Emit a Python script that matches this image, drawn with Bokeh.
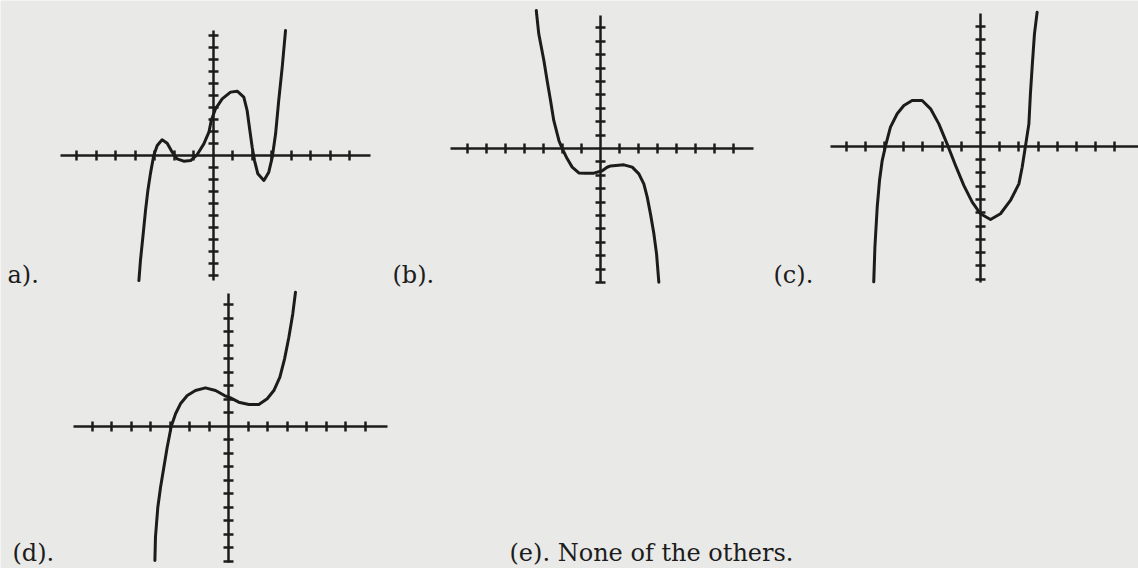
from bokeh.plotting import figure
from bokeh.models import Range1d, LinearAxis, FixedTicker, Label
from bokeh.embed import file_html
from bokeh.resources import INLINE

# ---- curve samples, each in its own graph's units ----
a_x = [-3.80, -3.72, -3.58, -3.46, -3.34, -3.21, -3.04, -2.86, -2.61, -2.35, -2.09, -1.84,
       -1.50, -1.15, -0.81, -0.47, -0.21, -0.09, 0.13, 0.47, 0.90, 1.24, 1.58, 1.75, 1.89,
       2.01, 2.13, 2.30, 2.61, 2.86, 3.04, 3.21, 3.37, 3.55, 3.72]
a_y = [-10.42, -8.75, -6.53, -4.58, -2.92, -1.53, 0.00, 0.83, 1.31, 1.03, 0.28, -0.28,
       -0.47, -0.42, 0.08, 0.97, 1.94, 2.92, 3.89, 4.72, 5.28, 5.36, 4.86, 3.75, 2.08,
       0.69, -0.42, -1.53, -2.08, -1.39, -0.14, 1.81, 4.58, 7.36, 10.42]

b_x = [-3.38, -3.25, -2.98, -2.81, -2.63, -2.46, -2.19, -2.02, -1.75, -1.49, -1.14, -0.79,
       -0.35, 0.09, 0.35, 0.53, 1.23, 1.67, 2.02, 2.28, 2.46, 2.63, 2.81, 2.95, 3.07]
b_y = [10.30, 8.56, 6.57, 5.07, 3.58, 2.09, 0.60, 0.00, -0.77, -1.39, -1.82, -1.84,
       -1.84, -1.66, -1.40, -1.30, -1.22, -1.39, -1.89, -2.64, -3.63, -4.88, -6.37, -7.86, -9.98]

c_x = [-5.56, -5.50, -5.38, -5.26, -5.12, -4.95, -4.69, -4.34, -3.99, -3.56, -3.04, -2.60,
       -2.17, -1.74, -1.30, -0.87, -0.43, 0.00, 0.52, 1.04, 1.56, 2.00, 2.17, 2.34, 2.52,
       2.60, 2.69, 2.81, 2.95]
c_y = [-10.20, -7.60, -4.59, -2.58, -1.08, 0.00, 1.43, 2.44, 3.06, 3.44, 3.44, 2.81,
       1.68, 0.18, -1.45, -2.95, -4.21, -5.08, -5.51, -5.08, -4.08, -2.83, -1.58, 0.00, 1.68,
       3.94, 5.94, 8.45, 10.08]

d_x = [-3.79, -3.76, -3.64, -3.50, -3.33, -3.16, -2.95, -2.73, -2.48, -2.13, -1.71, -1.20,
       -0.68, -0.22, 0.09, 0.51, 1.03, 1.54, 1.97, 2.31, 2.62, 2.86, 3.08, 3.28, 3.42]
d_y = [-9.95, -8.20, -6.00, -4.52, -3.04, -1.56, 0.00, 0.92, 1.66, 2.27, 2.64, 2.84,
       2.64, 2.27, 2.10, 1.78, 1.61, 1.61, 2.03, 2.64, 3.63, 4.99, 6.59, 8.32, 9.93]

# tick marks (unlabelled) on each pair of axes
x_ticks = [-7, -6, -5, -4, -3, -2, -1, 1, 2, 3, 4, 5, 6, 7]
y_ticks_a = [-10, -9, -8, -7, -6, -5, -4, -3, -2, -1, 1, 2, 3, 4, 5, 6, 7, 8, 9, 10]
y_ticks = [-10, -9, -8, -7, -6, -5, -4, -3, -2, -1, 1, 2, 3, 4, 5, 6, 7, 8, 9]

# answer choices
choice_labels = ["a).", "(b).", "(c).", "(d).", "(e).  None of the others."]

W, H = 1138, 568
INK = "#1c1c1c"
PAPER = "#e9e9e7"

p = figure(width=W, height=H, x_range=Range1d(0, W), y_range=Range1d(H, 0),
           x_axis_location=None, y_axis_location=None,
           output_backend="svg", toolbar_location=None, min_border=0)
p.grid.visible = False
p.outline_line_color = None
p.background_fill_color = PAPER
p.border_fill_color = PAPER

# each graph: page position of its origin, pixels per unit, axis extents
graphs = [
    dict(key="a", ox=212.5, oy=155.0, sx=19.5, sy=12.0, xb=(-7.82, 8.08), yb=(-10.42, 10.42),
         yt=y_ticks_a, x=a_x, y=a_y),
    dict(key="b", ox=600.0, oy=148.0, sx=19.0, sy=13.4, xb=(-7.9, 8.07), yb=(-10.0, 9.93),
         yt=y_ticks, x=b_x, y=b_y),
    dict(key="c", ox=980.0, oy=145.7, sx=19.2, sy=13.3, xb=(-7.8, 8.3), yb=(-10.25, 9.98),
         yt=y_ticks, x=c_x, y=c_y),
    dict(key="d", ox=228.3, oy=425.7, sx=19.5, sy=13.5, xb=(-7.95, 8.12), yb=(-10.07, 9.8),
         yt=y_ticks, x=d_x, y=d_y),
]

axis_style = dict(fixed_location=0, major_label_text_color=None,
                  major_tick_in=5, major_tick_out=5, minor_tick_in=0, minor_tick_out=0,
                  axis_line_width=2.5, axis_line_color=INK,
                  major_tick_line_width=2.5, major_tick_line_color=INK)

for g in graphs:
    xn, yn = "x_" + g["key"], "y_" + g["key"]
    p.extra_x_ranges[xn] = Range1d(-g["ox"] / g["sx"], (W - g["ox"]) / g["sx"])
    p.extra_y_ranges[yn] = Range1d(-(H - g["oy"]) / g["sy"], g["oy"] / g["sy"])

    xa = LinearAxis(x_range_name=xn, y_range_name=yn, bounds=g["xb"],
                    ticker=FixedTicker(ticks=x_ticks, minor_ticks=[]), **axis_style)
    ya = LinearAxis(x_range_name=xn, y_range_name=yn, bounds=g["yb"],
                    ticker=FixedTicker(ticks=g["yt"], minor_ticks=[]), **axis_style)
    p.add_layout(xa, "below")
    p.add_layout(ya, "left")

    p.line(g["x"], g["y"], x_range_name=xn, y_range_name=yn,
           line_color=INK, line_width=3, line_join="round", line_cap="round")

label_pos = [(7, 274), (392, 274), (773, 274), (12, 552), (509, 552)]
for text, (lx, ly) in zip(choice_labels, label_pos):
    p.add_layout(Label(x=lx, y=ly, text=text, text_font="DejaVu Serif",
                       text_font_size="24px", text_color=INK,
                       text_baseline="alphabetic", text_align="left"))

open("out.html", "w").write(file_html(p, INLINE))
